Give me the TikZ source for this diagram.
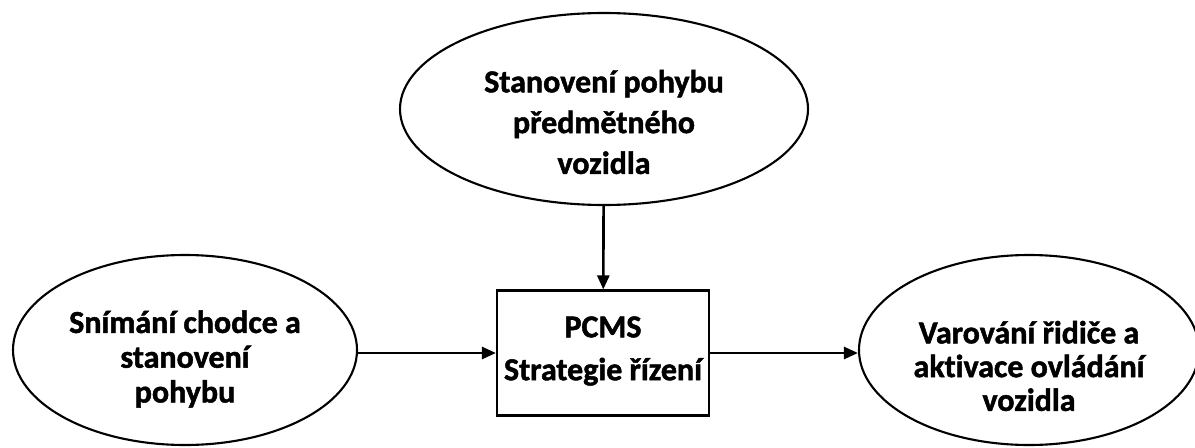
\documentclass[tikz,border=0pt]{standalone}
\usepackage{fontspec}
\setmainfont{Carlito}[Ligatures=NoCommon, BoldFeatures={FakeBold=1.5}]
\usepackage{tikz}
\usetikzlibrary{shapes,arrows.meta}

\begin{document}
\begin{tikzpicture}[
      txt/.style={font=\fontsize{9.1}{#1}\selectfont\bfseries, align=center, inner sep=0pt},
      blob/.style={ellipse, draw, line width=0.6pt, inner sep=0pt},
      stratbox/.style={rectangle, draw, line width=0.6pt, minimum width=2.12cm, minimum height=1.25cm},
      flow/.style={-{Triangle[length=1.4mm,width=1.2mm]}, line width=0.75pt}]
      \useasboundingbox (0,0) rectangle (11.95,4.47);
      % the three ellipses and the box in the middle
      \node[blob, minimum width=4.08cm, minimum height=1.92cm] (motion) at (6.04,3.38) {};
      \node[stratbox] (pcms) at (6.03,0.94) {};
      \node[blob, minimum width=3.44cm, minimum height=1.90cm] (sensing) at (1.85,0.97) {};
      \node[blob, minimum width=3.40cm, minimum height=1.90cm] (warning) at (10.29,0.97) {};
      % texts
      \node[txt=11.6] (motiontxt) at ([yshift=-0.13cm]motion.center) {Stanovení pohybu\\předmětného\\vozidla};
      \node[txt=12.2] (pcmstxt) at ([yshift=0.02cm]pcms.center) {PCMS\\Strategie řízení};
      \node[txt=9.9] (sensingtxt) at ([yshift=-0.09cm]sensing.center) {Snímání chodce a\\stanovení\\pohybu};
      \node[txt=9.6] (warningtxt) at ([yshift=-0.16cm]warning.center) {Varování řidiče a\\aktivace ovládání\\vozidla};
      \draw[flow] (motion) -- (pcms);
      \draw[flow] (sensing.east |- pcms) -- (pcms);
      \draw[flow] (pcms) -- (pcms -| warning.west);
   \end{tikzpicture}
\end{document}
